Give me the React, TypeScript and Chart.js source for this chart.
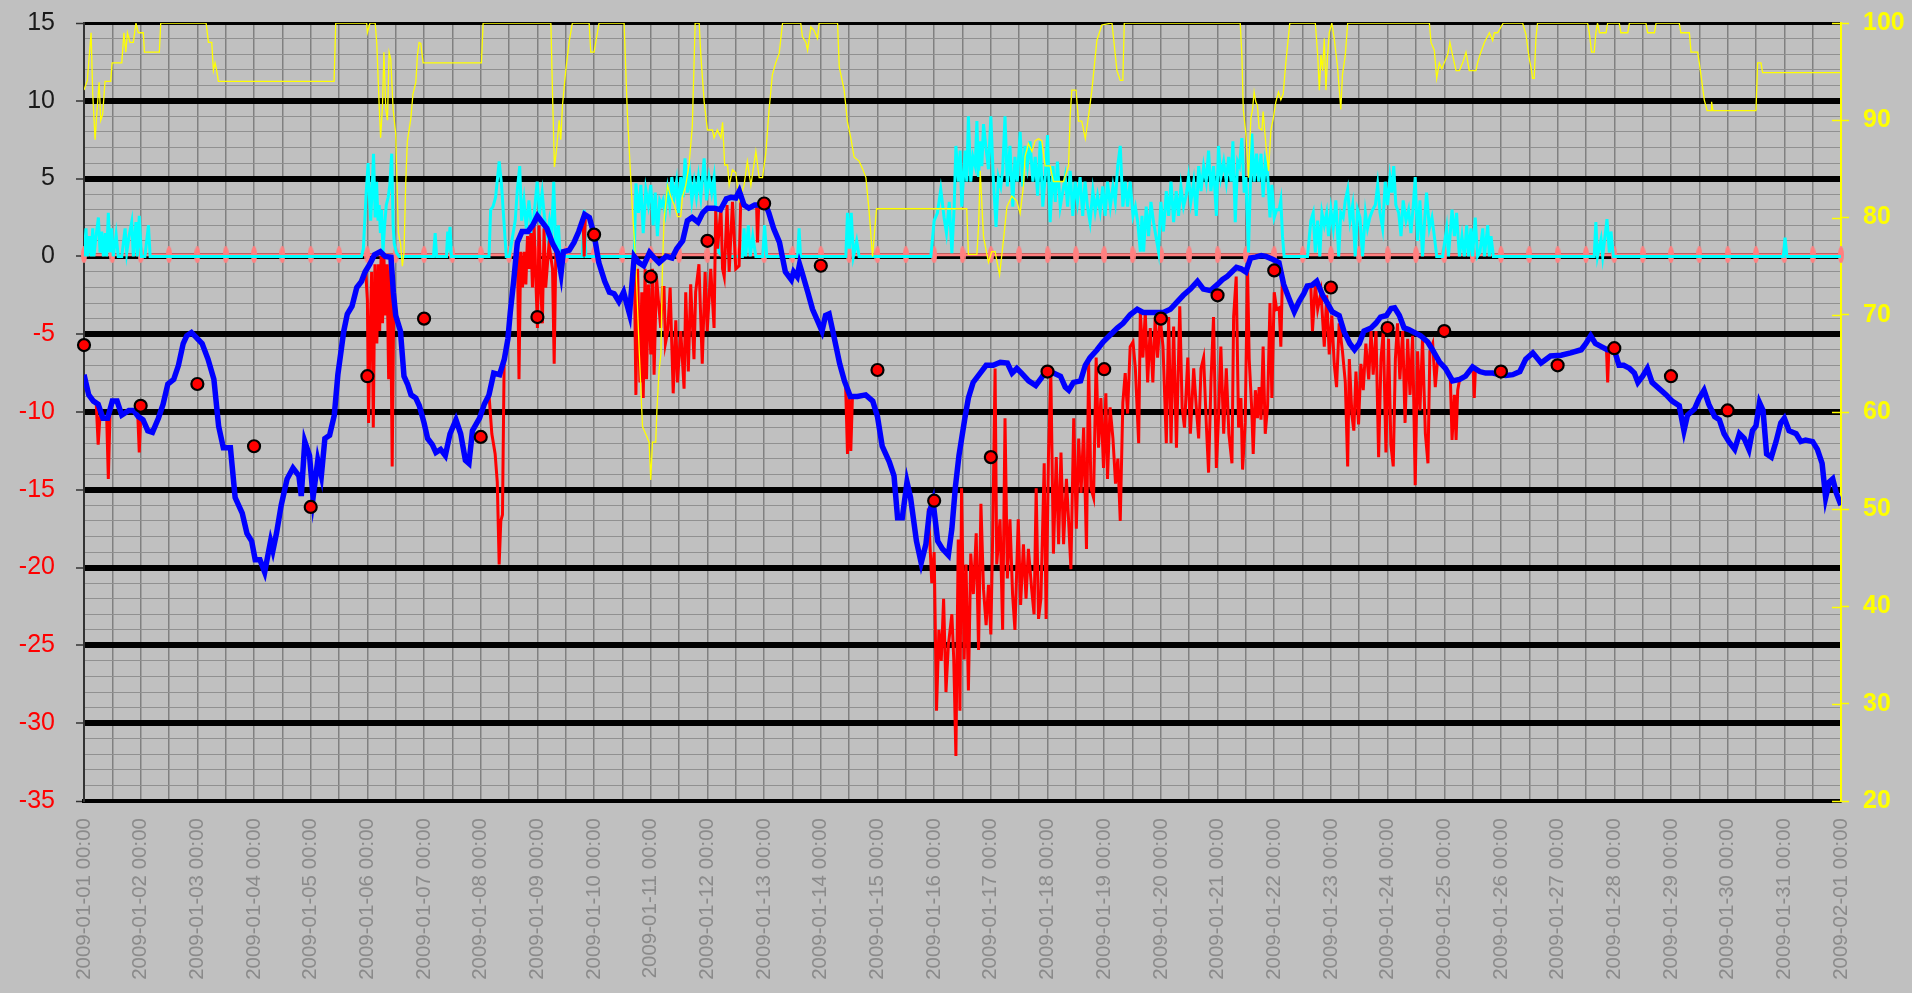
import React, { useEffect, useRef } from 'react';
import { Chart, registerables } from 'chart.js';

Chart.register(...registerables);

// Tick labels for the time axis (one per day, 00:00)
const dayLabels = [
  '2009-01-01 00:00', '2009-01-02 00:00', '2009-01-03 00:00', '2009-01-04 00:00',
  '2009-01-05 00:00', '2009-01-06 00:00', '2009-01-07 00:00', '2009-01-08 00:00',
  '2009-01-09 00:00', '2009-01-10 00:00', '2009-01-11 00:00', '2009-01-12 00:00',
  '2009-01-13 00:00', '2009-01-14 00:00', '2009-01-15 00:00', '2009-01-16 00:00',
  '2009-01-17 00:00', '2009-01-18 00:00', '2009-01-19 00:00', '2009-01-20 00:00',
  '2009-01-21 00:00', '2009-01-22 00:00', '2009-01-23 00:00', '2009-01-24 00:00',
  '2009-01-25 00:00', '2009-01-26 00:00', '2009-01-27 00:00', '2009-01-28 00:00',
  '2009-01-29 00:00', '2009-01-30 00:00', '2009-01-31 00:00', '2009-02-01 00:00',
];

// Daily values (red dots) at each day's 00:00
const dailyValues = [
  -5.7, -9.6, -8.2, -12.2, -16.1, -7.7, -4.0, -11.6, -3.9, 1.4,
  -1.3, 1.0, 3.4, -0.6, -7.3, -15.7, -12.9, -7.4, -7.25, -4.0,
  -2.5, -0.9, -2.0, -4.6, -4.8, -7.4, -7.0, -5.9, -7.7, -9.9,
];

// Pink reference markers every 12 hours
const markerValues = [
  0.1, 0.1, 0.1, 0.1, 0.1, 0.1, 0.1, 0.1, 0.1, 0.1, 0.1, 0.1, 0.1, 0.1, 0.1, 0.1,
  0.1, 0.1, 0.1, 0.1, 0.1, 0.1, 0.1, 0.1, 0.1, 0.1, 0.1, 0.1, 0.1, 0.1, 0.1, 0.1,
  0.1, 0.1, 0.1, 0.1, 0.1, 0.1, 0.1, 0.1, 0.1, 0.1, 0.1, 0.1, 0.1, 0.1, 0.1, 0.1,
  0.1, 0.1, 0.1, 0.1, 0.1, 0.1, 0.1, 0.1, 0.1, 0.1, 0.1, 0.1, 0.1, 0.1, 0.1,
];

// Blue smoothed line: [hour since 2009-01-01 00:00, value]
const smoothed: [number, number][] = [
  [0,-7.6],[2,-8.9],[4,-9.3],[6,-9.5],[8,-10.4],[10,-10.4],[12,-9.3],[14,-9.3],[16,-10.2],[19,-9.9],
  [21,-9.9],[23,-10.3],[25,-10.5],[27,-11.2],[29,-11.3],[31.5,-10.4],[33.5,-9.5],[35.5,-8.2],[38,-7.9],[40,-7.0],
  [42,-5.6],[43.5,-5.1],[45.5,-4.9],[47.5,-5.2],[50,-5.6],[52.5,-6.6],[55,-7.9],[57,-10.9],[59,-12.3],[62,-12.3],
  [64,-15.5],[67,-16.5],[69,-17.8],[71,-18.3],[72.5,-19.5],[74.5,-19.5],[76.5,-20.3],[79,-18.3],[80,-18.9],[81.5,-17.8],
  [83.5,-16.0],[86,-14.3],[88.5,-13.6],[91,-14.1],[92,-15.4],[93.5,-11.9],[95.5,-12.8],[97,-15.5],[99,-13.1],[100.5,-14.1],
  [102,-11.7],[104,-11.5],[106,-10.2],[107.5,-7.6],[110,-4.8],[111.5,-3.7],[113.5,-3.2],[115.5,-2.0],[117.5,-1.6],[119,-1.0],
  [121,-0.5],[123,0.1],[125.5,0.3],[127.5,0],[130,-0.05],[131,-2.3],[132,-3.8],[134,-4.8],[135.5,-7.7],[137,-8.2],
  [138.5,-8.9],[140.5,-9.1],[142,-9.6],[144,-10.7],[145.5,-11.7],[147.5,-12.1],[149,-12.6],[151,-12.4],[153,-12.8],[155,-11.4],
  [157.5,-10.5],[159.5,-11.4],[161.5,-13.1],[163,-13.3],[164.5,-11.2],[167.5,-10.4],[169.5,-9.5],[171.5,-8.9],[173.5,-7.5],[176,-7.6],
  [178,-6.6],[179.5,-5.3],[180.5,-3.6],[182,-1.5],[183.5,0.9],[185.5,1.6],[188,1.6],[190,2.0],[192,2.6],[194,2.2],
  [196,1.8],[198.5,0.8],[200.5,0.25],[202,-1.1],[203,0.3],[205.5,0.4],[207.5,0.9],[209.5,1.6],[212,2.7],[214,2.5],
  [216,1.4],[218,-0.4],[220.5,-1.6],[222.5,-2.3],[224.5,-2.4],[226.5,-2.9],[228.5,-2.3],[231,-3.7],[233,0],[235,-0.4],
  [237,-0.6],[239.5,0.25],[241.5,-0.1],[243.5,-0.4],[246.5,0],[249,-0.1],[251,0.5],[253.5,1.0],[255.5,2.3],[257.5,2.5],
  [260,2.2],[262,2.8],[264,3.1],[267,3.1],[269.5,3.0],[272,3.7],[274,3.8],[276,3.75],[277.5,4.2],[279.5,3.3],
  [281.5,3.1],[284,3.3],[286,3.3],[288,3.55],[290,2.8],[292,1.8],[294.5,0.9],[296,-0.25],[297,-1.0],[299.5,-1.5],
  [300.5,-1.0],[302,-1.3],[303,-0.5],[304,-1.0],[306.5,-2.3],[308.5,-3.4],[310.5,-4.1],[312.5,-4.8],[314,-3.8],[315.5,-3.7],
  [317.5,-5.1],[320,-6.9],[322,-8.0],[324.5,-9.0],[327.5,-9.0],[331,-8.9],[334,-9.3],[336,-10.3],[338,-12.2],[341,-13.2],
  [343,-14.1],[344.5,-16.8],[346.5,-16.8],[348.5,-14.5],[350,-15.5],[352.5,-18.3],[354.5,-19.7],[356.5,-18.5],[358,-16.4],[359.5,-15.7],
  [361.5,-18.3],[363.5,-18.8],[366,-19.2],[367.5,-17.5],[369,-14.8],[370.5,-12.8],[373,-10.4],[374.5,-9.1],[376.5,-8.1],[379.5,-7.5],
  [382,-7.0],[385,-7.0],[388,-6.8],[391,-6.85],[393,-7.5],[395,-7.2],[397,-7.5],[400,-8.0],[403,-8.3],[405.5,-7.8],
  [407.5,-7.3],[410.5,-7.5],[413.5,-7.7],[415.5,-8.4],[417,-8.6],[419,-8.1],[422,-8.0],[424,-7.0],[426,-6.5],[429,-6.0],
  [431.5,-5.5],[434.5,-5.05],[437.5,-4.6],[440,-4.3],[443,-3.75],[446,-3.4],[448.5,-3.6],[451.5,-3.6],[454.5,-3.6],[457,-3.6],
  [460,-3.4],[463,-2.9],[465.5,-2.5],[468.5,-2.1],[471.5,-1.6],[474,-2.1],[477,-2.2],[480,-1.8],[482,-1.5],[484,-1.3],
  [486,-1.0],[488,-0.7],[490,-0.8],[492,-1.0],[494,-0.1],[496,-0.05],[498.5,0.05],[500.5,0],[503.5,-0.2],[506,-0.4],
  [508,-1.8],[510.5,-2.8],[512.5,-3.55],[514.5,-2.9],[516.5,-2.4],[518,-1.9],[520,-1.85],[522,-1.6],[524.5,-2.5],[526.5,-3.0],
  [528.5,-3.55],[531.5,-3.8],[533.5,-4.8],[536,-5.6],[538,-6.0],[540,-5.6],[542,-4.8],[545,-4.6],[547,-4.3],[549,-3.9],
  [551.5,-3.8],[553.5,-3.35],[555,-3.3],[557,-3.8],[559,-4.6],[561,-4.7],[563.5,-4.9],[566,-5.1],[569,-5.5],[571,-6.0],
  [574,-6.8],[576.5,-7.2],[579.5,-8.0],[582.5,-7.9],[585,-7.7],[588,-7.1],[591,-7.4],[593.5,-7.5],[596.5,-7.5],[599.5,-7.6],
  [602,-7.65],[605,-7.6],[608,-7.4],[610.5,-6.6],[613.5,-6.2],[617,-6.85],[621,-6.4],[625.5,-6.35],[629.5,-6.2],[634,-6.0],
  [636,-5.6],[638,-5.1],[640,-5.6],[642.5,-5.8],[645,-6.0],[648,-6.0],[650,-7.0],[652,-7.0],[654.5,-7.2],[656.5,-7.5],
  [658,-8.1],[660,-7.7],[662,-7.2],[664,-8.1],[667,-8.5],[670,-8.9],[672.5,-9.3],[675.5,-9.6],[677.5,-11.2],[679,-10.2],
  [682,-9.8],[684,-9.1],[686,-8.6],[688,-9.5],[690.5,-10.3],[692.5,-10.5],[694.5,-11.4],[696.5,-11.9],[699,-12.4],[701,-11.4],
  [703,-11.7],[705,-12.4],[706.5,-11.2],[708,-10.9],[709.5,-9.4],[711,-9.9],[712.5,-12.7],[714.5,-12.9],[716.5,-11.9],[718.5,-10.7],
  [720,-10.4],[722,-11.2],[725,-11.4],[727,-11.9],[729,-11.8],[732,-11.9],[734,-12.4],[736,-13.3],[737.5,-15.5],[739,-14.5],
  [740.5,-14.3],[742,-15.2],[744,-16.0],
];

// Red raw line (null = hidden / gap)
const raw: [number, number | null][] = [
  [5.2,-9.5],[6,-12.1],[6.8,-10.2],[7.5,null],
  [9.6,-10.3],[10.3,-14.3],[11,-10.2],[11.5,null],
  [22.8,-10.3],[23.4,-12.6],[24,-10.4],[24.5,null],
  [119.3,-1.0],[120,-2.8],[120.5,-10.7],[121,-6.0],[121.8,-1.0],[122.5,-11.0],[123.2,-0.5],[124,-5.6],[124.6,-0.5],[125.2,-4.8],
  [125.8,0],[126.4,-4.3],[127,0],[127.7,-3.8],[128.3,-0.5],[129,-7.9],[129.7,0],[130.5,-13.5],[131.2,-2.3],[131.6,null],
  [171.5,-8.9],[172.7,-11.4],[174.1,-12.7],[175,-14.5],[175.8,-19.8],[176.5,-17.0],[177.2,-16.6],[177.9,-6.9],[178.4,null],
  [183.5,0.9],[184.2,-7.9],[184.9,0.3],[185.7,-2.0],[186.4,0.3],[187.1,-1.8],[187.8,1.3],[188.5,-0.8],[189.2,1.5],[189.9,-2.0],
  [190.6,2.0],[191.3,-1.3],[192,-4.6],[192.7,2.0],[193.4,-2.0],[194.1,-4.3],[194.8,1.8],[195.5,-2.0],[196.9,0.8],[198.4,-0.8],
  [199.1,-6.9],[199.8,0.3],[200.3,null],
  [211.3,2.6],[211.8,0],[212.3,2.6],[212.6,null],
  [233,0],[233.7,-8.9],[234.4,-0.8],[235.4,-8.1],[236.2,-2.3],[236.8,-9.1],[237.6,-0.8],[238.2,-7.9],[239,-1.8],[240,-6.3],
  [240.7,-0.8],[241.4,-7.6],[242.4,-1.3],[243.2,-2.8],[244.2,-4.6],[245,-2.0],[245.6,-2.0],[246.2,-5.6],[247.2,-4.8],[248.2,-2.0],
  [249.5,-8.8],[250.6,-4.1],[251.3,-8.1],[252.7,-4.8],[254.1,-8.5],[254.8,-2.3],[255.9,-7.4],[256.9,-1.8],[258.3,-6.6],[259,-2.3],
  [260.4,-0.5],[261.8,-6.9],[263,-1.0],[263.9,-4.8],[265.4,-0.8],[266.8,-4.6],[267.5,3.0],[268.3,0.5],[269.7,3.2],[270.4,-0.8],
  [271.1,-1.3],[272.3,3.3],[273.2,-1.0],[274.6,3.5],[276,-0.8],[277.4,-0.6],[278.1,3.6],[278.5,null],
  [284.8,3.3],[285.2,0.9],[285.7,3.3],[286,null],
  [322.5,-8.3],[323.3,-12.7],[324,-9.0],[324.7,-12.5],[325.4,-9.0],[325.8,null],
  [357.5,-16.2],[359,-21],[360,-19],[361,-29.2],[362,-24],[363,-26],[364,-22],[365,-28],[366,-25],[367.5,-23.0],
  [368.3,-25.9],[369.2,-32.1],[370.2,-18.2],[370.9,-29.2],[371.6,-14.9],[372.7,-25.9],[373.5,-19.8],[374.5,-27.9],[375.5,-19.1],[376.6,-21.7],
  [377.8,-17.8],[378.8,-25.3],[379.8,-15.9],[380.9,-21.4],[382,-23.7],[383,-21.1],[384,-24.3],[384.8,-17.8],[385.8,-7.2],[386.5,-19.8],
  [387.9,-16.9],[389,-24.0],[390,-10.4],[391,-20.7],[392.1,-16.9],[393.2,-21.7],[394.2,-24.0],[395.6,-16.9],[396.6,-22.4],[397.8,-18.5],
  [398.9,-22.0],[399.9,-18.8],[401.3,-21.4],[402.3,-23.0],[403.2,-14.9],[404.2,-23.3],[405.2,-22.0],[406.6,-13.3],[407.4,-23.3],[408.4,-12.9],
  [409.4,-7.5],[410.5,-19.1],[411.7,-12.9],[412.7,-18.5],[413.7,-12.6],[414.8,-18.5],[416,-14.3],[416.9,-16.9],[417.9,-20.1],[419.1,-10.4],
  [420.2,-17.5],[421.2,-11.7],[422.2,-15.2],[423.3,-11.0],[424.5,-18.8],[425.4,-6.8],[426.4,-14.9],[427.5,-15.5],[428.6,-6.5],[429.6,-12.3],
  [430.6,-9.1],[431.7,-13.6],[432.7,-8.8],[433.4,-14.3],[434.5,-9.7],[435.7,-11.7],[436.8,-14.6],[437.8,-13.0],[438.8,-17.0],[439.9,-9.4],
  [440.9,-7.5],[441.9,-10.1],[443,-5.8],[444.2,-5.5],[445.2,-7.2],[446.6,-12.0],[447.3,-3.6],[448.4,-6.5],[449.4,-3.6],[450.4,-8.1],
  [451.5,-4.6],[452.6,-8.1],[453.6,-3.9],[454.6,-6.5],[455.7,-3.9],[456.9,-5.8],[458.3,-12.0],[459.3,-3.9],[460.3,-12.0],[461.4,-4.5],
  [462.6,-12.3],[464,-3.2],[465,-9.7],[466,-11.0],[467.4,-6.5],[468.5,-11.4],[469.9,-7.2],[471,-9.7],[472,-11.7],[473,-7.2],
  [474.1,-6.5],[475.3,-11.0],[476.2,-13.9],[477.2,-8.1],[478.3,-3.9],[479.5,-13.6],[480.4,-10.4],[481.4,-5.8],[482.6,-11.4],[483.7,-7.2],
  [484.8,-11.4],[486.1,-13.3],[486.8,-3.9],[487.9,-1.3],[488.9,-11.0],[489.9,-9.1],[490.6,-13.7],[491.7,-10.7],[492.7,-0.8],[493.4,-6.6],
  [494.5,-9.9],[495.1,-12.7],[496,-8.6],[496.9,-10.4],[497.6,-8.4],[498.4,-10.5],[499.3,-5.8],[500.2,-11.4],[501.2,-9.6],[502.2,-3.0],
  [503,-9.1],[504,-2.3],[505,-3.4],[506.1,-3.3],[506.8,-5.8],[507.5,-1.0],[508,null],
  [519.5,-1.9],[520.2,-4.8],[521.4,-1.8],[522.4,-3.4],[523.8,-2.3],[525.2,-5.8],[526.2,-2.5],[527.3,-6.3],[528.4,-3.8],[529.4,-6.9],
  [530.4,-8.4],[531.5,-4.3],[532.9,-6.1],[534.1,-8.1],[535.1,-13.5],[535.8,-6.6],[536.9,-10.2],[537.7,-11.2],[538.6,-7.4],[539.7,-10.8],
  [540.7,-6.9],[541.7,-8.6],[542.8,-5.6],[544,-7.9],[545,-4.8],[545.9,-7.6],[547.1,-4.8],[548.2,-12.9],[549.2,-6.6],[550.2,-4.8],
  [551.3,-12.6],[552.4,-5.3],[553.4,-12.1],[554.4,-13.5],[555.3,-6.6],[556.2,-4.3],[557.2,-7.9],[558.4,-4.8],[559.4,-10.7],[560.5,-5.3],
  [561.5,-8.9],[562.6,-5.1],[563.7,-14.7],[564.7,-6.1],[565.7,-9.9],[566.8,-5.3],[568,-11.4],[569.1,-13.3],[569.9,-6.1],[571.1,-5.6],
  [572.2,-8.4],[573.2,-6.6],[574,null],
  [578.6,-7.9],[579.3,-11.8],[580.3,-8.9],[581,-11.8],[581.7,-8.6],[582.4,-8.0],[582.8,null],
  [588.2,-7.1],[588.7,-9.1],[589.2,-7.2],[589.6,null],
  [644.7,-6.0],[645.2,-8.1],[645.7,-6.0],
];

// Cyan line (left axis)
const wind: [number, number][] = [
  [0,0],[0.85,1.8],[1.4,0],[2.3,1.3],[3,0],[3.7,1.8],[4.2,0],[5.1,1.3],[6.1,2.5],[6.8,0.25],[7.5,1.6],[8.2,0],[9,1.5],[9.6,0],
  [10.3,2.8],[11,0.25],[11.7,1.8],[12.4,0],[13.6,1.4],[14.5,0],[16,0],[17.4,1.8],[18.1,0.25],[19.2,1.4],[20.2,2.2],[20.9,0],
  [22,2.2],[22.6,0],[23.4,2.6],[24.3,0],[25.8,0],[27.3,2.0],[28,0],
  [117.5,0],[118.3,0.5],[119.5,4.1],[120.3,6.0],[120.9,3.8],[121.4,2.3],[122,4.3],[122.6,6.6],[123.3,2.5],[123.9,4.8],[124.5,2.3],
  [125,3.3],[125.5,1.5],[126,3.0],[126.6,0.25],[127.3,2.0],[128,3.3],[128.8,3.8],[129.5,4.6],[130.3,6.6],[130.9,2.0],[131.4,0.8],
  [132.3,0.25],[133.4,0],
  [148,0],[148.7,1.5],[149.3,0],[153.5,0],[154,1.6],[154.5,1.0],[155,1.9],[155.6,0],
  [171.5,0],[172.2,3.0],[173.2,3.2],[174.3,3.8],[175.8,6.1],[176.8,4.6],[177.8,2.3],[178.8,0],[180.1,0],[181.5,1.3],[182.6,2.3],
  [183.5,4.3],[184.5,5.8],[185.3,2.3],[186.3,3.6],[187.3,1.8],[188.4,3.6],[189.8,1.3],[190.8,3.0],[191.9,4.8],[192.9,2.8],[194,4.1],
  [195,2.5],[196.2,1.3],[197.1,2.3],[198,1.3],[198.9,4.8],[199.8,0.25],[200.9,2.0],[201.6,0],
  [211,0],[211.8,3.0],[212.5,0],
  [233,0],[233.7,4.7],[234.8,2.8],[235.8,4.6],[236.8,1.5],[237.9,4.3],[239,3.3],[240,4.6],[241,2.0],[241.9,4.1],[242.8,1.3],
  [243.8,3.6],[244.6,3.3],[245.2,3.6],[246.1,2.8],[247.1,4.3],[248,3.3],[248.9,5.1],[249.9,3.8],[250.9,4.8],[251.7,2.8],[252.7,5.1],
  [253.7,3.8],[254.5,6.3],[255.5,4.1],[256.5,5.3],[257.4,3.6],[258.4,4.8],[259.3,3.8],[260.2,5.1],[261.2,3.8],[262.6,6.3],[263.6,3.6],
  [264.7,5.1],[265.8,4.1],[266.8,5.1],[267.8,2.3],[268.9,0.25],[270.4,0],
  [278.8,0],[279.5,1.8],[280.2,0],[281.3,2.0],[282.1,0],[283.2,1.3],[284.5,0],[287.4,0],[288.2,2.0],[289.1,0],
  [302.2,0],[302.8,1.8],[303.4,0],
  [322.6,0],[323.3,2.8],[324.1,0.5],[324.9,2.8],[325.8,0],[327.2,1.0],[328.2,0],
  [358.6,0],[360,2.3],[361.4,2.8],[362.8,4.3],[364.2,2.5],[365.2,1.5],[366.4,3.5],[367.5,0.2],[368.5,3.3],[369.2,7.1],[370.3,4.8],
  [371,6.8],[371.7,3.2],[372.4,5.1],[373.1,6.8],[373.8,4.8],[374.5,9.0],[375.5,4.8],[376.4,6.4],[377.4,5.8],[378.1,8.7],[378.8,5.1],
  [379.5,7.4],[380.2,5.8],[380.9,8.5],[382,6.9],[383,5.6],[384,9.0],[385.1,4.8],[386.2,1.9],[387.2,5.1],[388.2,4.5],[389,5.5],
  [390,9.0],[391,4.5],[392.1,7.1],[393.3,3.2],[394.2,6.4],[395.2,4.8],[396.4,8.0],[397.5,4.5],[398.5,7.1],[399.5,5.8],[400.6,7.4],
  [401.8,4.8],[402.8,6.4],[403.8,3.9],[404.9,7.4],[406,3.2],[407,5.1],[408,7.8],[409.1,2.2],[410.3,5.8],[411.3,3.5],[412.2,6.1],
  [413.4,3.2],[414.5,4.2],[415.5,5.1],[416.5,3.2],[417.6,5.5],[418.7,2.6],[419.7,4.8],[420.7,3.5],[421.8,5.1],[422.9,2.6],[423.9,4.8],
  [424.9,3.2],[426,2.2],[427.2,4.2],[428.2,2.9],[429.2,3.9],[430.3,2.9],[431.4,4.5],[432.4,2.6],[433.4,4.8],[434.6,3.2],[435.7,4.5],
  [436.7,3.5],[437.7,5.8],[438.8,7.1],[439.9,3.2],[440.9,4.8],[441.9,3.2],[443,4.8],[444.2,2.6],[445.2,3.2],[446.2,2.2],[447.3,0.3],
  [448,2.6],[448.7,0.3],[449.8,3.2],[450.8,1.3],[451.8,3.5],[452.9,2.2],[453.9,1.3],[455,0.3],[456,3.5],[457.1,1.6],[458.3,4.2],
  [459.3,2.6],[460.3,4.8],[461.4,2.2],[462.5,4.2],[463.5,2.6],[464.5,4.5],[465.6,3.2],[466.7,3.9],[467.7,5.1],[468.7,3.5],[469.9,4.8],
  [471,2.6],[472,5.8],[473,4.2],[474.1,5.8],[475.2,4.8],[476.2,6.8],[477.2,4.2],[478.3,5.8],[479.5,2.6],[480.4,7.1],[481.4,5.1],
  [482.6,6.1],[483.7,4.8],[484.7,6.4],[485.7,4.8],[486.5,7.4],[487.5,2.2],[488.5,6.1],[489.3,5.8],[490.3,7.6],[491.3,4.1],[492,5.1],
  [493.1,0.25],[493.7,3.6],[494.5,7.9],[495.5,4.8],[496.5,6.6],[497.4,4.8],[498.4,6.6],[499.3,3.8],[500.2,6.1],[501.2,5.3],[502.2,2.5],
  [503,4.6],[504,2.5],[505,3.0],[506.1,3.0],[506.8,3.6],[507.5,1.3],[508.2,0],
  [518.1,0],[519.5,2.3],[520.5,2.8],[521.4,0.25],[522.4,2.3],[523.3,0],[524.2,2.8],[525.2,2.0],[526.2,2.8],[527,1.3],[528,3.0],
  [529,1.8],[530.1,3.6],[531.3,0],[532.2,2.8],[533.2,2.5],[534.1,3.6],[535.1,4.3],[536.1,2.3],[537.2,3.3],[538.3,0],[539.3,3.0],
  [540.3,2.5],[541.4,0],[542.6,2.8],[543.5,1.8],[544.5,2.5],[545.7,3.0],[546.8,3.3],[547.8,4.6],[548.8,2.8],[549.9,1.8],[551,4.8],
  [552,3.3],[553,5.1],[553.8,4.1],[554.6,5.8],[555.5,3.3],[556.7,2.8],[557.7,1.3],[558.6,3.6],[559.8,2.3],[560.9,3.0],[561.9,1.5],
  [562.9,3.3],[563.7,5.1],[564.7,1.0],[565.7,3.6],[566.8,0],[567.7,2.3],[568.5,4.1],[569.7,1.8],[570.8,2.5],[571.8,1.3],[572.8,0],
  [575.3,0],[577,1.8],[577.8,0],[579.3,3.0],[580.3,1.3],[581.2,2.8],[582.4,0],[583.5,1.3],[584.5,0],[585.5,2.0],[586.3,0],
  [587.3,1.8],[588,0],[589.1,2.5],[590.1,0],[591.1,0.25],[592.3,1.8],[593,0],[594.4,2.0],[595.1,0],[595.8,1.3],[596.8,0],
  [639.5,0],[640.2,2.2],[640.9,0],[642.4,1.1],[643.1,0],[644.9,2.4],[645.9,0.25],[646.6,1.6],[647.6,0],
  [719.6,0],[720.3,1.2],[721.1,0],[744,0],
];

// Yellow line (right axis, 20..100)
const humidity: [number, number][] = [
  [0,93.1],[0.4,93.1],[1.4,94.1],[3,99],[3.7,92.7],[4.7,88],[5.4,90.6],[6.4,93.9],[7.1,90],[7.9,90.6],[8.9,94],[11.3,94],
  [11.9,95.9],[16,95.9],[16.9,99],[17.7,97],[18.4,99],[19.5,98],[20.9,98],[22,100],[23,99],[25.1,99],[25.6,97],[31.9,97],
  [32.5,100],[51.7,100],[52.7,98],[54.1,98],[54.8,95.1],[55.5,95.9],[56.2,95.1],[56.9,94],[105.9,94],[106.6,100],[119.7,100],
  [120,99],[121.1,100],[123.3,100],[124,97.8],[125,91.5],[125.6,88.2],[126.4,91.5],[127,97],[127.8,91.1],[128.5,90],[129.2,97],
  [129.9,96.3],[130.9,91.1],[132,88.6],[133.1,78.5],[134.1,77.2],[134.8,75],[135.5,76.4],[136.2,83.3],[136.9,87.8],[138.4,90.2],
  [139.3,92.7],[140.5,93.9],[141.2,96.7],[141.9,98],[142.6,97.9],[143.6,95.9],[168.3,95.9],[169,100],[197.7,100],[198.4,92.7],
  [199.2,85.2],[200.1,87],[201.2,90],[201.9,88],[202.6,91.5],[204,95.1],[205.4,98],[206.8,100],[213.9,100],[214.6,97],[216,97],
  [217.4,99],[218.1,100],[228.7,100],[230.1,90.6],[232.3,80.5],[233.7,75.2],[235.1,66.3],[236.5,58.5],[237.9,57.7],[239.3,56.9],
  [240,53],[240.7,56.9],[242.1,56.9],[242.6,60.2],[243.5,64.2],[244.3,66],[244.9,74.4],[245.6,79.7],[247.1,83.3],[248.5,82.1],
  [249.9,81.3],[251.3,80.1],[252.7,80.1],[253.4,82.1],[254.8,83.3],[256.2,85.4],[257.6,89.4],[258.8,100],[260.5,100],[261.2,96.7],
  [262.6,91.9],[264,89],[266.1,89],[266.8,88.2],[268.2,89],[269.7,88.2],[270.4,89.8],[271.3,85.4],[272.5,85.4],[273.2,83.3],
  [274.6,84.9],[276,84.6],[277.4,81.7],[279.5,83.3],[280.9,85.8],[282.4,83.3],[284.5,86.8],[285.9,84.1],[287.3,84.1],[288.7,86.6],
  [290.1,91.1],[291.5,94.7],[292.9,95.9],[294.4,96.9],[295.8,100],[303.5,100],[304.2,98.6],[305.7,98],[306.4,97.2],[307.8,99.6],
  [309.2,99.2],[310.6,98.4],[311.3,100],[319.1,100],[319.8,95.5],[321.9,93.1],[323.3,89.8],[324.7,88.2],[326.1,86.2],[328.2,85.8],
  [329.7,85],[331.1,84.1],[332.5,80.5],[333.9,76],[335.6,80.9],[373.8,80.9],[374.5,76.2],[378.1,76.2],[378.8,79.1],[379.5,84.8],
  [380.9,78],[383,75.4],[384.4,76.5],[385.8,76.5],[387.7,74.1],[389.4,77.8],[390.8,81.1],[392.9,82.2],[395,81.7],[396.4,80.4],
  [397.8,83.2],[398.5,86.3],[399.9,87.6],[401.4,86.8],[402.8,87.9],[404.2,88.1],[405.6,87.9],[407,85.3],[409.1,85.3],[410.5,83.7],
  [412.7,83.7],[414.8,83.7],[416.9,85.3],[417.6,90.5],[418.3,93.1],[420.1,93.1],[421.1,89.9],[422.5,89.9],[424,88.1],[425.4,90.5],
  [426.8,93.1],[428.9,98.2],[431,99.8],[435.3,100],[437.4,95.1],[438.8,94.1],[439.9,94.1],[440.5,100],[489.6,100],[490.3,96.7],
  [490.9,91.1],[492,88.6],[493.1,84.1],[494.1,90.2],[494.8,91.1],[495.5,92.9],[496.2,91.9],[496.9,91.5],[497.6,89.2],[498.8,89],
  [499.3,90.9],[500.5,87.4],[501.6,84.8],[502.6,89],[503.6,90.2],[504.7,91.9],[505.8,92.9],[506.8,92.1],[507.8,92.7],[508.9,95.9],
  [510.1,98.8],[510.6,100],[521.4,100],[522.4,96.7],[523.1,93.1],[523.8,96.7],[524.5,95.1],[525.2,98.4],[525.9,93.1],[526.6,96.7],
  [527.3,99],[528.4,100],[529.4,98.4],[530.8,95.5],[532.2,91.1],[532.9,94.7],[534.1,96.7],[535.1,100],[569.7,100],[570.4,98],
  [571.8,97.2],[572.8,94.3],[573.9,95.9],[575,95.3],[576,95.9],[577.4,96.7],[578.4,98],[579.5,96.7],[581,95.1],[582.4,95.1],
  [583.8,95.9],[585.2,97],[586.6,95.1],[589.4,95.1],[590.1,95.9],[591.5,97],[593,98],[595.1,99],[596.5,98.2],[597.2,99],
  [598.6,99],[601,100],[609.2,100],[610.6,98.8],[612,96.3],[612.7,95.5],[613.4,94.3],[614.1,94.3],[614.8,98.4],[615.5,100],
  [636.7,100],[637.4,99],[638.4,97],[639.5,97],[640.2,99],[640.9,100],[641.7,99],[644.5,99],[645.2,100],[650.1,100],
  [650.8,99],[653.7,99],[654.4,100],[661.4,100],[662.1,99],[665,99],[665.7,100],[675.5,100],[676.2,99],[679.8,99],
  [680.5,97],[683.3,97],[684,95.9],[685,94.1],[686.1,92.1],[687.3,91],[689,91],[689.2,91.9],[689.8,91],[708,91],
  [708.7,95.9],[710.1,95.9],[710.8,94.9],[744,94.9],
];

const toXY = (arr: [number, number | null][]) => arr.map(([x, y]) => ({ x, y }));

const innerRightTicks = {
  id: 'innerRightTicks',
  afterDraw(chart: any) {
    const s = chart.scales.y1;
    const ctx = chart.ctx;
    ctx.save();
    ctx.strokeStyle = '#ffff00';
    ctx.lineWidth = 1.5;
    s.ticks.forEach((t: any) => {
      const py = Math.round(s.getPixelForValue(t.value)) + 0.5;
      ctx.beginPath();
      ctx.moveTo(s.left - 9, py);
      ctx.lineTo(s.left, py);
      ctx.stroke();
    });
    ctx.restore();
  },
};

export default function App() {
  const ref = useRef<HTMLCanvasElement>(null);
  useEffect(() => {
    const canvas = ref.current!;
    const marker = document.createElement('canvas');
    marker.width = 6;
    marker.height = 17;
    const mctx = marker.getContext('2d')!;
    mctx.fillStyle = '#ff8080';
    mctx.beginPath();
    mctx.ellipse(3, 8.5, 3, 8.5, 0, 0, Math.PI * 2);
    mctx.fill();

    const font = "'Liberation Sans', Arial, sans-serif";
    const chart = new Chart(canvas, {
      type: 'line',
      data: {
        datasets: [
          {
            label: 'daily',
            data: dailyValues.map((v, i) => ({ x: i * 24, y: v })),
            showLine: false,
            pointRadius: 6,
            pointBackgroundColor: '#ff0000',
            pointBorderColor: '#000000',
            pointBorderWidth: 2.2,
            yAxisID: 'y',
            clip: false,
          },
          {
            label: 'smoothed',
            data: toXY(smoothed),
            borderColor: '#0000ff',
            borderWidth: 5.5,
            pointRadius: 0,
            yAxisID: 'y',
          },
          {
            label: 'humidity',
            data: toXY(humidity),
            borderColor: '#ffff00',
            borderWidth: 1.3,
            pointRadius: 0,
            yAxisID: 'y1',
          },
          {
            label: 'raw',
            data: toXY(raw),
            borderColor: '#ff0000',
            borderWidth: 3,
            pointRadius: 0,
            spanGaps: false,
            yAxisID: 'y',
          },
          {
            label: 'wind',
            data: toXY(wind),
            borderColor: '#00ffff',
            borderWidth: 3,
            pointRadius: 0,
            yAxisID: 'y',
          },
          {
            label: 'marker',
            data: markerValues.map((v, i) => ({ x: i * 12, y: v })),
            borderColor: '#ff8080',
            borderWidth: 3,
            pointRadius: 3,
            pointStyle: marker as any,
            yAxisID: 'y',
            clip: false,
          },
        ],
      },
      options: {
        animation: false,
        responsive: false,
        devicePixelRatio: 1,
        events: [],
        layout: { padding: { top: 23, left: 0, right: 0, bottom: 0 } },
        elements: { line: { tension: 0 } },
        plugins: { legend: { display: false }, tooltip: { enabled: false } },
        scales: {
          x: {
            type: 'linear',
            min: 0,
            max: 744,
            ticks: {
              stepSize: 12,
              autoSkip: false,
              maxRotation: 90,
              minRotation: 90,
              padding: 17,
              color: '#8a8a8a',
              font: { family: font, size: 20.5 },
              callback: (value: any) => {
                const v = Math.round(Number(value));
                return v % 24 === 0 ? dayLabels[v / 24] : '';
              },
            },
            grid: { color: '#808080', lineWidth: 1.5, drawTicks: false },
            border: { color: '#000000', width: 4 },
            afterFit: (s: any) => {
              s.height = 192;
              s.paddingLeft = 0;
              s.paddingRight = 0;
            },
          },
          y: {
            position: 'left',
            min: -35,
            max: 15,
            ticks: {
              stepSize: 1,
              autoSkip: false,
              padding: 21,
              font: { family: font, size: 25 },
              color: (ctx: any) => (ctx.tick && ctx.tick.value < 0 ? '#ff0000' : '#1a1a1a'),
              callback: (value: any) => {
                const v = Math.round(Number(value));
                return v % 5 === 0 ? String(v) : '';
              },
            },
            grid: {
              color: (ctx: any) => {
                const v = Math.round(ctx.tick.value);
                if (v === -35) return '#909090';
                return v % 5 === 0 ? '#000000' : '#909090';
              },
              lineWidth: (ctx: any) => {
                const v = Math.round(ctx.tick.value);
                if (v === -35) return 1;
                if (v === 15) return 3;
                return v % 5 === 0 ? 6 : 1;
              },
              tickColor: (ctx: any) => (Math.round(ctx.tick.value) % 5 === 0 ? '#333333' : 'rgba(0,0,0,0)'),
              tickWidth: 1.5,
              tickLength: 8,
            },
            border: { color: '#333333', width: 2 },
            afterFit: (s: any) => {
              s.width = 84;
              s.paddingTop = 0;
              s.paddingBottom = 0;
            },
          },
          y1: {
            position: 'right',
            min: 20,
            max: 100,
            ticks: {
              stepSize: 10,
              autoSkip: false,
              padding: 14,
              color: '#ffff00',
              font: { family: font, size: 25, weight: 'bold' },
            },
            grid: { drawOnChartArea: false, tickColor: '#ffff00', tickLength: 8, tickWidth: 1.5 },
            border: { color: '#ffff00', width: 2 },
            afterFit: (s: any) => {
              s.width = 71;
              s.paddingTop = 0;
              s.paddingBottom = 0;
            },
          },
        },
      },
      plugins: [innerRightTicks],
    } as any);
    return () => chart.destroy();
  }, []);

  return (
    <div style={{ position: 'absolute', left: 0, top: 0, width: 1912, height: 993, background: '#c0c0c0' }}>
      <canvas ref={ref} width={1912} height={993} style={{ display: 'block' }} />
    </div>
  );
}
